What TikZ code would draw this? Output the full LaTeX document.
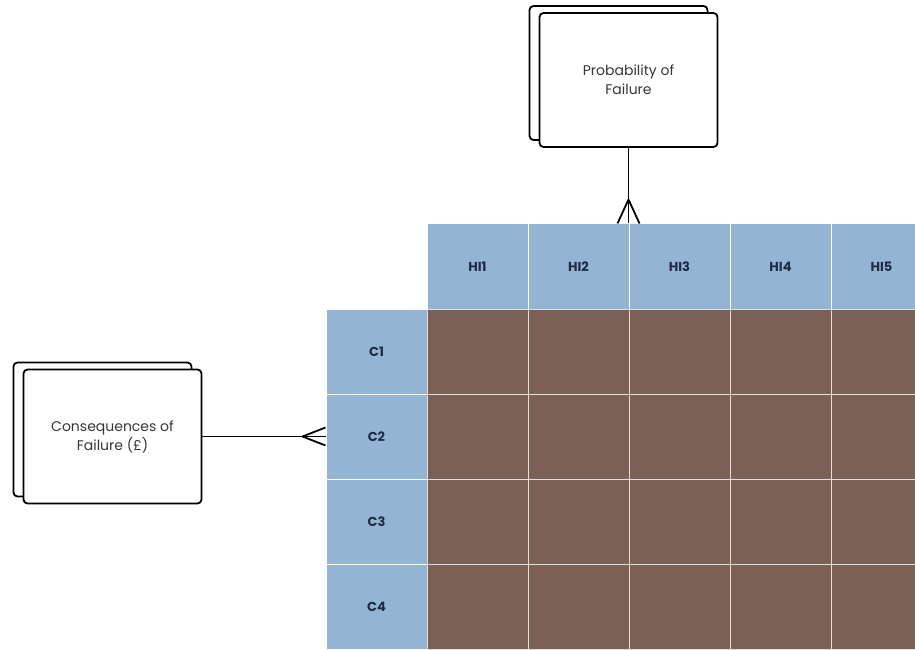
\documentclass[tikz,border=0pt]{standalone}
\usepackage{fontspec}
\setmainfont{Poppins}
\usetikzlibrary{positioning,shadows,calc}
\definecolor{headBlue}{RGB}{148,180,211}
\definecolor{cellBrown}{RGB}{122,96,85}
\definecolor{labelNavy}{RGB}{30,44,72}
\definecolor{boxText}{RGB}{55,55,55}

\begin{document}
\begin{tikzpicture}[x=1pt, y=1pt, node distance=85pt and 101pt, on grid]
	\tikzstyle{entity} = [rectangle, rounded corners=4pt, minimum width=178pt,
	minimum height=134pt, align=center, draw=black, line width=1.8pt, fill=white,
	text=boxText, font=\fontsize{14}{19}\selectfont,
	copy shadow={shadow xshift=-10pt, shadow yshift=7pt}]
	\tikzstyle{header} = [rectangle, minimum width=101pt, minimum height=85pt,
	draw=white, line width=1pt, fill=headBlue, text=labelNavy,
	font=\fontsize{13}{15}\selectfont\bfseries]
	\tikzstyle{body} = [rectangle, minimum width=101pt, minimum height=85pt,
	draw=white!80!cellBrown, line width=1pt, fill=cellBrown]
	\tikzstyle{link} = [line width=1.8pt]
	\useasboundingbox (0,0) rectangle (915,649);
	\clip (0,0) rectangle (915,649);
	% health index columns
	\node (hi1) [header] at (477.5,382.5) {HI1};
	\node (hi2) [header, right=of hi1] {HI2};
	\node (hi3) [header, right=of hi2] {HI3};
	\node (hi4) [header, right=of hi3] {HI4};
	\node (hi5) [header, right=of hi4] {HI5};
	% consequence rows
	\node (c1) [header] at (376.5,297.5) {C1};
	\node (c2) [header, below=of c1] {C2};
	\node (c3) [header, below=of c2] {C3};
	\node (c4) [header, below=of c3] {C4};
	\foreach \r in {1,...,4}
		\foreach \c in {1,...,5}
			\node (cell\r\c) [body] at (hi\c |- c\r) {};
	% entities
	\node (probFailure) [entity] at (628.5,569) {Probability of\\Failure};
	\node (consFailure) [entity] at (112.5,212.5) {Consequences of\\Failure (£)};
	\draw [link] (probFailure.south -| hi3.north west) -- (hi3.north west);
	\draw [link] ($(hi3.north west)+(0,24)$) -- ($(hi3.north west)+(-11,0)$);
	\draw [link] ($(hi3.north west)+(0,24)$) -- ($(hi3.north west)+(11,0)$);
	\draw [link] (consFailure.east) -- (consFailure.east -| c2.west);
	\draw [link] ($(c2.west)+(-23,0)$) -- ($(c2.west)+(0,9)$);
	\draw [link] ($(c2.west)+(-23,0)$) -- ($(c2.west)+(0,-9)$);
\end{tikzpicture}
\end{document}
